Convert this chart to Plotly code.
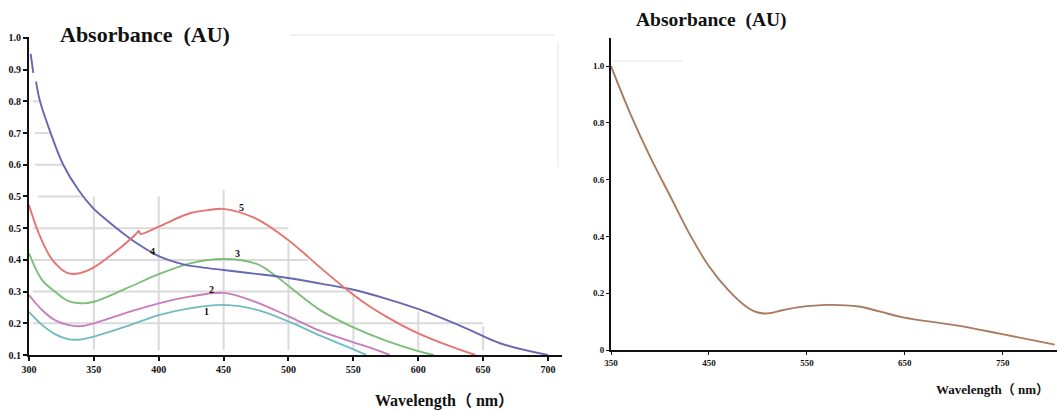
import plotly.graph_objects as go

W, H = 1057, 410

# ---------------- left panel: absorption spectra 1-5 ----------------
# y values are in the panel's grid units (0.1 per gridline; the "0.5" label is printed twice)
wl_1 = [300, 310, 320, 330, 340, 350, 375, 400, 425, 450, 475, 500, 525, 550, 560]
abs_1 = [0.236, 0.195, 0.166, 0.150, 0.149, 0.158, 0.190, 0.226, 0.248, 0.258, 0.243, 0.206, 0.160, 0.118, 0.100]

wl_2 = [300, 310, 320, 330, 340, 350, 375, 400, 425, 450, 475, 500, 525, 550, 565, 578]
abs_2 = [0.289, 0.242, 0.210, 0.195, 0.191, 0.200, 0.233, 0.263, 0.285, 0.296, 0.267, 0.222, 0.175, 0.140, 0.120, 0.100]

wl_3 = [300, 310, 320, 330, 340, 350, 375, 400, 425, 450, 475, 490, 500, 525, 550, 575, 600, 612]
abs_3 = [0.421, 0.337, 0.300, 0.271, 0.263, 0.268, 0.310, 0.355, 0.390, 0.403, 0.388, 0.350, 0.318, 0.240, 0.187, 0.145, 0.112, 0.100]

wl_4 = [301.3, 303.3, 304.4, 305.4, 308.5, 316.7, 326.4, 338, 349, 360, 370, 384, 400, 419, 432, 450, 475, 501, 525, 551, 575, 602, 637, 663, 700]
abs_4 = [1.05, 0.99, None, 0.962, 0.900, 0.800, 0.700, 0.621, 0.565, 0.525, 0.492, 0.450, 0.412, 0.386, 0.377, 0.368, 0.356, 0.342, 0.325, 0.305, 0.278, 0.242, 0.184, 0.137, 0.100]

wl_5 = [300, 308, 318, 330, 339, 349, 370, 383, 384.5, 386, 400, 424, 440, 450, 475, 500, 510, 525, 550, 563, 575, 600, 625, 644]
abs_5 = [0.573, 0.479, 0.400, 0.358, 0.358, 0.374, 0.437, 0.484, 0.491, 0.482, 0.505, 0.547, 0.558, 0.561, 0.530, 0.462, 0.428, 0.374, 0.290, 0.252, 0.222, 0.168, 0.127, 0.100]

left_x_ticks = [300, 350, 400, 450, 500, 550, 600, 650, 700]
left_y_ticks = [0.1, 0.2, 0.3, 0.4, 0.5, 0.6, 0.7, 0.8, 0.9, 1.0, 1.1]
left_y_text = ["0.1", "0.2", "0.3", "0.4", "0.5", "0.5", "0.6", "0.7", "0.8", "0.9", "1.0"]

curve_names = ["1", "2", "3", "4", "5"]
curve_colors = ["#72bcbf", "#c97dbd", "#7dbd7a", "#6767b2", "#e57372"]
label_wl = [437, 440.5, 460.5, 395.5, 464]
label_abs = [0.236, 0.308, 0.419, 0.426, 0.566]

# ---------------- right panel: single spectrum ----------------
right_wl = [350, 370, 390, 410, 430, 450, 470, 490, 500, 510, 525, 542, 572, 603, 625, 648, 704, 748, 803]
right_abs = [1.0, 0.830, 0.680, 0.545, 0.410, 0.295, 0.210, 0.148, 0.132, 0.129, 0.140, 0.151, 0.159, 0.153, 0.135, 0.115, 0.086, 0.057, 0.019]

right_x_ticks = [350, 450, 550, 650, 750]
right_y_ticks = [0, 0.2, 0.4, 0.6, 0.8, 1.0]
right_y_text = ["0", "0.2", "0.4", "0.6", "0.8", "1.0"]

SERIF = "Liberation Serif, Times New Roman, serif"
CJK_SERIF = "Liberation Serif, Noto Sans CJK SC, serif"


def px_x(px):
    return px / W


def px_y(py):
    return (H - py) / H


fig = go.Figure()

left_series = [(wl_1, abs_1), (wl_2, abs_2), (wl_3, abs_3), (wl_4, abs_4), (wl_5, abs_5)]
for (xs, ys), name, col in zip(left_series, curve_names, curve_colors):
    fig.add_trace(go.Scatter(
        x=xs, y=ys, mode="lines", name=name, connectgaps=False,
        line=dict(color=col, width=1.9, shape="spline", smoothing=1.0),
        xaxis="x", yaxis="y", showlegend=False, hoverinfo="skip",
    ))

fig.add_trace(go.Scatter(
    x=right_wl, y=right_abs, mode="lines",
    line=dict(color="#a97a5c", width=1.9, shape="spline", smoothing=1.0),
    xaxis="x2", yaxis="y2", showlegend=False, hoverinfo="skip",
))

# curve numbers
for t, xv, yv in zip(curve_names, label_wl, label_abs):
    fig.add_annotation(x=xv, y=yv, xref="x", yref="y", text=t, showarrow=False,
                       font=dict(family=SERIF, size=10, color="#111", weight="bold"))

# partial grid of the left panel
GRID = "#dadada"
h_segments = [  # (y, x0, x1)
    (0.9, 303, 309), (0.8, 304.5, 316), (0.7, 304.5, 326), (0.6, 307, 341),
    (0.5, 303, 500), (0.4, 303, 515), (0.3, 303, 550), (0.2, 303, 650),
]
v_segments = [  # (x, y0, y1)
    (350, 0.115, 0.60), (400, 0.115, 0.60), (450, 0.115, 0.62), (500, 0.115, 0.455),
    (550, 0.115, 0.296), (600, 0.115, 0.237), (650, 0.115, 0.19),
]
for yv, x0, x1 in h_segments:
    fig.add_shape(type="line", xref="x", yref="y", x0=x0, x1=x1, y0=yv, y1=yv,
                  line=dict(color=GRID, width=2), layer="below")
for xv, y0, y1 in v_segments:
    fig.add_shape(type="line", xref="x", yref="y", x0=xv, x1=xv, y0=y0, y1=y1,
                  line=dict(color=GRID, width=2), layer="below")

# faint frame remnants
FAINT = "#f1f1f1"
fig.add_shape(type="line", xref="paper", yref="paper", x0=px_x(290), x1=px_x(554),
              y0=px_y(35), y1=px_y(35), line=dict(color=FAINT, width=2))
fig.add_shape(type="line", xref="paper", yref="paper", x0=px_x(558), x1=px_x(558),
              y0=px_y(43), y1=px_y(167), line=dict(color=FAINT, width=2))
fig.add_shape(type="line", xref="paper", yref="paper", x0=px_x(613), x1=px_x(683),
              y0=px_y(61), y1=px_y(61), line=dict(color="#ececec", width=1.5))

# titles
fig.add_annotation(xref="paper", yref="paper", x=px_x(145), y=px_y(35),
                   text="Absorbance\u00a0\u00a0(AU)", showarrow=False,
                   xanchor="center", yanchor="middle",
                   font=dict(family=SERIF, size=22, color="#111", weight="bold"))
fig.add_annotation(xref="paper", yref="paper", x=px_x(711), y=px_y(20),
                   text="Absorbance\u00a0\u00a0(AU)", showarrow=False,
                   xanchor="center", yanchor="middle",
                   font=dict(family=SERIF, size=19.5, color="#111", weight="bold"))
fig.add_annotation(xref="paper", yref="paper", x=px_x(444), y=px_y(401),
                   text="Wavelength\uff08 nm\uff09", showarrow=False,
                   xanchor="center", yanchor="middle",
                   font=dict(family=CJK_SERIF, size=16, color="#111", weight="bold"))
fig.add_annotation(xref="paper", yref="paper", x=px_x(992), y=px_y(389),
                   text="Wavelength\uff08 nm\uff09", showarrow=False,
                   xanchor="center", yanchor="middle",
                   font=dict(family=CJK_SERIF, size=13, color="#111", weight="bold"))

tick_font_l = dict(family=SERIF, size=10, color="#111", weight="bold")
tick_font_r = dict(family=SERIF, size=9, color="#111", weight="bold")

axis_common = dict(showline=True, linecolor="#111", linewidth=2, showgrid=False,
                   zeroline=False, ticks="outside", tickcolor="#111", fixedrange=True,
                   automargin=False)

fig.update_layout(
    width=W, height=H,
    margin=dict(l=0, r=0, t=0, b=0, autoexpand=False),
    paper_bgcolor="white", plot_bgcolor="white",
    xaxis=dict(domain=[px_x(29), px_x(562)], range=[300, 710.8], anchor="y",
               tickvals=left_x_ticks, ticklen=4, tickwidth=1.5, tickfont=tick_font_l,
               **axis_common),
    yaxis=dict(domain=[px_y(355), px_y(37)], range=[0.1, 1.103], anchor="x",
               tickvals=left_y_ticks, ticktext=left_y_text, ticklen=4, tickwidth=1.5,
               tickfont=tick_font_l, **axis_common),
    xaxis2=dict(domain=[px_x(611), 1.0], range=[350, 805.3], anchor="y2",
                tickvals=right_x_ticks, ticklen=3, tickwidth=1, tickfont=tick_font_r,
                **axis_common),
    yaxis2=dict(domain=[px_y(350), px_y(38)], range=[0, 1.099], anchor="x2",
                tickvals=right_y_ticks, ticktext=right_y_text, ticklen=3, tickwidth=1,
                tickfont=tick_font_r, **axis_common),
)

fig.write_html("out.html")
